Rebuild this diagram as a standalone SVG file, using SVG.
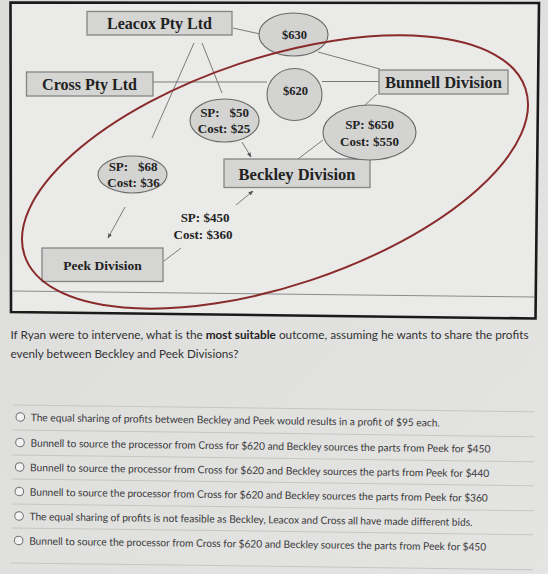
<svg xmlns="http://www.w3.org/2000/svg" width="548" height="574" viewBox="0 0 548 574">
<defs>
<style>
.box{fill:#d5d5d4;stroke:#858585;stroke-width:1.3}
.ell{fill:#d3d3d2;stroke:#6a6a6a;stroke-width:1.1}
.lbl{font-family:"Liberation Serif","Times New Roman",serif;font-weight:bold;fill:#222;text-anchor:middle}
.con{stroke:#7a7a7a;stroke-width:1;fill:none}
.q{font-family:Lato,"Open Sans",sans-serif;font-size:11px;fill:#333}
.opt{font-family:Lato,"Open Sans",sans-serif;font-size:10.5px;fill:#3a3a3a}
.sep{stroke:#c6c6c6;stroke-width:1}
.radio{fill:#f2f2f2;stroke:#6e6e6e;stroke-width:1}
</style>
<marker id="arr" viewBox="0 0 10 10" refX="9" refY="5" markerWidth="5" markerHeight="5" orient="auto">
<path d="M0,1 L10,5 L0,9 Z" fill="#555"/>
</marker>
<linearGradient id="bg" x1="0" y1="0" x2="1" y2="1">
<stop offset="0" stop-color="#dcdcdb"/>
<stop offset="1" stop-color="#e4e4e3"/>
</linearGradient>
</defs>
<rect x="0" y="0" width="548" height="574" fill="url(#bg)"/>
<polygon points="10.5,2.5 539,3 535.5,318.5 11,312" fill="#eaeae8" stroke="#1a1a1a" stroke-width="2.6"/>
<line x1="12" y1="291" x2="534" y2="297" stroke="#8a8a8a" stroke-width="1"/>

<g id="connectors">
<line class="con" x1="233" y1="28" x2="260" y2="34"/>
<line class="con" x1="318" y1="52" x2="380" y2="69"/>
<line class="con" x1="153" y1="82" x2="267" y2="82"/>
<line class="con" x1="322" y1="81.5" x2="379" y2="81.5"/>
<line class="con" x1="377" y1="94" x2="365" y2="105"/>
<line class="con" x1="323" y1="140" x2="298" y2="159"/>
<line class="con" x1="194" y1="43" x2="152" y2="138"/>
<line class="con" x1="202" y1="43" x2="222" y2="93"/>
<line class="con" x1="242" y1="142" x2="251" y2="157" marker-end="url(#arr)"/>
<line class="con" x1="125" y1="207" x2="108" y2="238" marker-end="url(#arr)"/>
<line class="con" x1="236" y1="205" x2="253" y2="191" marker-end="url(#arr)"/>
<line class="con" x1="164" y1="261" x2="181" y2="248"/>
</g>

<g id="leacox"><rect class="box" x="87" y="11.5" width="145" height="23.5"/><text class="lbl" x="159.5" y="29" font-size="16">Leacox Pty Ltd</text></g>
<g id="cross"><rect class="box" x="26.5" y="72" width="126.5" height="24"/><text class="lbl" x="89.5" y="89.5" font-size="16">Cross Pty Ltd</text></g>
<g id="bunnell"><rect class="box" x="379" y="70" width="129" height="24"/><text class="lbl" x="443.5" y="87.5" font-size="16.5">Bunnell Division</text></g>
<g id="beckley"><rect class="box" x="224" y="159" width="146" height="28.5"/><text class="lbl" x="297" y="180" font-size="16.5">Beckley Division</text></g>
<g id="peek"><rect class="box" x="42" y="248" width="121" height="33.5"/><text class="lbl" x="102.5" y="270" font-size="13.5">Peek Division</text></g>

<g id="bid630"><ellipse class="ell" cx="293.5" cy="34.5" rx="34.5" ry="21.5"/><text class="lbl" x="294.5" y="39" font-size="12.5">$630</text></g>
<g id="bid620"><ellipse class="ell" cx="294.5" cy="94.5" rx="27.5" ry="26"/><text class="lbl" x="295.5" y="95" font-size="12.5">$620</text></g>
<g id="sp50"><ellipse class="ell" cx="224.5" cy="120.5" rx="34.5" ry="21.5"/><text class="lbl" x="224.5" y="117" font-size="13" xml:space="preserve">SP:   $50</text><text class="lbl" x="224" y="133" font-size="13">Cost: $25</text></g>
<g id="sp650"><ellipse class="ell" cx="369.5" cy="132.5" rx="46.5" ry="27.5"/><text class="lbl" x="369.5" y="129" font-size="13">SP: $650</text><text class="lbl" x="369.5" y="146" font-size="13">Cost: $550</text></g>
<g id="sp68"><ellipse class="ell" cx="132.5" cy="174.5" rx="34.5" ry="18.5"/><text class="lbl" x="133" y="171" font-size="13" xml:space="preserve">SP:   $68</text><text class="lbl" x="133.5" y="187" font-size="13">Cost: $36</text></g>
<g id="sp450"><text class="lbl" x="205" y="222" font-size="13">SP: $450</text><text class="lbl" x="203" y="239" font-size="13">Cost: $360</text></g>

<ellipse id="highlight" cx="275" cy="172" rx="264" ry="114" transform="rotate(-18.45 275 172)" fill="none" stroke="#8a2b2b" stroke-width="2"/>

<g id="question">
<text class="q" x="10.5" y="339" textLength="518" lengthAdjust="spacingAndGlyphs">If Ryan were to intervene, what is the <tspan font-weight="bold" fill="#222">most suitable</tspan> outcome, assuming he wants to share the profits</text>
<text class="q" x="10.5" y="358" textLength="228" lengthAdjust="spacingAndGlyphs">evenly between Beckley and Peek Divisions?</text>
</g>

<g id="options" transform="rotate(0.75 19 480)">
<line class="sep" x1="12" y1="405" x2="534" y2="405"/>
<line class="sep" x1="12" y1="430" x2="534" y2="430"/>
<line class="sep" x1="12" y1="455" x2="534" y2="455"/>
<line class="sep" x1="12" y1="479" x2="534" y2="479"/>
<line class="sep" x1="12" y1="504" x2="534" y2="504"/>
<line class="sep" x1="12" y1="528" x2="534" y2="528"/>
<line class="sep" x1="12" y1="563" x2="534" y2="563"/>
<circle class="radio" cx="19.5" cy="417" r="4.3"/>
<circle class="radio" cx="19.5" cy="442.5" r="4.3"/>
<circle class="radio" cx="19.5" cy="467" r="4.3"/>
<circle class="radio" cx="19.5" cy="491.5" r="4.3"/>
<circle class="radio" cx="19.5" cy="516" r="4.3"/>
<circle class="radio" cx="19.5" cy="540.5" r="4.3"/>
<text class="opt" x="30" y="421" textLength="409" lengthAdjust="spacingAndGlyphs">The equal sharing of profits between Beckley and Peek would results in a profit of $95 each.</text>
<text class="opt" x="30" y="446.5" textLength="460" lengthAdjust="spacingAndGlyphs">Bunnell to source the processor from Cross for $620 and Beckley sources the parts from Peek for $450</text>
<text class="opt" x="30" y="471" textLength="459" lengthAdjust="spacingAndGlyphs">Bunnell to source the processor from Cross for $620 and Beckley sources the parts from Peek for $440</text>
<text class="opt" x="30" y="495.5" textLength="458" lengthAdjust="spacingAndGlyphs">Bunnell to source the processor from Cross for $620 and Beckley sources the parts from Peek for $360</text>
<text class="opt" x="30" y="520" textLength="443" lengthAdjust="spacingAndGlyphs">The equal sharing of profits is not feasible as Beckley, Leacox and Cross all have made different bids.</text>
<text class="opt" x="30" y="544.5" textLength="457" lengthAdjust="spacingAndGlyphs">Bunnell to source the processor from Cross for $620 and Beckley sources the parts from Peek for $450</text>
</g>
</svg>
